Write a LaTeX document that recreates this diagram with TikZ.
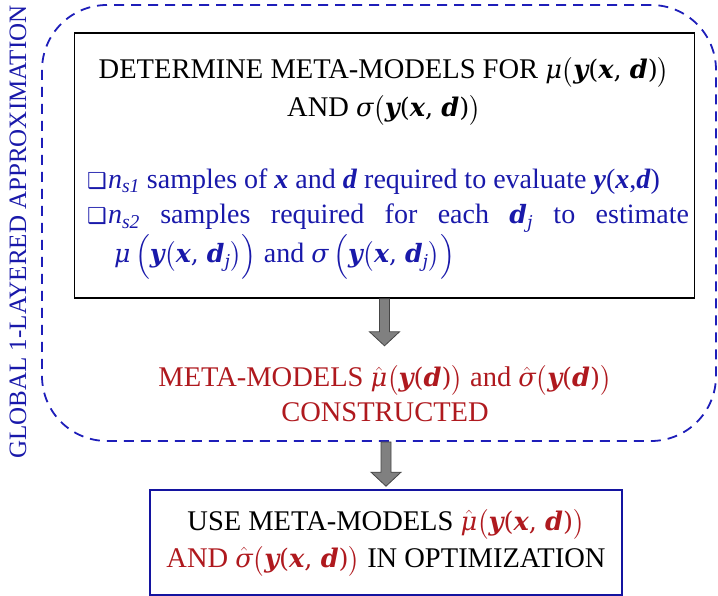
\documentclass[tikz,border=0pt]{standalone}
\usepackage{fontspec}
\setmainfont{Liberation Serif}
\newfontfamily\dingfont{DejaVu Sans}
\newfontfamily\cambria{DejaVu Serif}[Scale=0.9]
\usepackage{amsmath}
\usetikzlibrary{positioning}
\usetikzlibrary{calc}
\usepackage{xcolor}

\definecolor{frameblue}{RGB}{30,30,185}
\definecolor{txtblue}{RGB}{25,25,170}
\definecolor{boxblue}{RGB}{20,20,160}
\definecolor{darkred}{RGB}{175,25,30}
\definecolor{arrowgray}{RGB}{128,128,128}
\definecolor{arrowdark}{RGB}{70,70,70}

% letters of the formulas
\newcommand{\tbi}[1]{\textbf{\textit{#1}}}
\newcommand{\cbi}[1]{{\cambria\bfseries\itshape #1}}
\newcommand{\cmr}[1]{{\cambria #1}}
\newcommand{\gmu}{{\cambria\itshape μ}}
\newcommand{\gsig}{{\cambria\itshape σ}}
\newcommand{\hmu}{$\hat{\text{\gmu}}$}
\newcommand{\hsig}{$\hat{\text{\gsig}}$}
\newcommand{\lb}{$\bigl($}
\newcommand{\rb}{$\bigr)$}
\newcommand{\yxd}{\cbi{y}\cmr{(}\cbi{x}\cmr{, }\cbi{d}\cmr{)}}
\newcommand{\yd}{\cbi{y}\cmr{(}\cbi{d}\cmr{)}}
\newcommand{\yxdj}{\cbi{y}$\bigl($\cbi{x}\cmr{, }\cbi{d}\textsubscript{\cmr{\itshape j}}$\bigr)$}
\newcommand{\bul}{{\dingfont\fontsize{22}{22}\selectfont ❑}}

% gray block arrow from #1 down to tip #2
\newcommand{\blockarrow}[2]{%
  \path[draw=arrowdark, fill=arrowgray, line width=0.8pt]
    ($(#1)+(-5,0)$) -- ($(#2)+(-5,-14)$) -- ($(#2)+(-15,-14)$) -- (#2)
    -- ($(#2)+(15,-14)$) -- ($(#2)+(5,-14)$) -- ($(#1)+(5,0)$) -- cycle;}

\tikzset{
  detbox/.style={draw=black, line width=1.6pt, minimum width=620pt, minimum height=265pt, inner sep=0pt},
  usebox/.style={draw=boxblue, line width=1.6pt, minimum width=472pt, minimum height=105pt, inner sep=0pt, align=center, font=\fontsize{28.5}{37}\selectfont},
  frame/.style={draw=frameblue, line width=1.8pt, dash pattern=on 10pt off 7pt, rounded corners=65pt, minimum width=674pt, minimum height=436pt, inner sep=0pt},
}

\begin{document}
\begin{tikzpicture}[x=1pt, y=-1pt]
\useasboundingbox (0,0) rectangle (718,596);

%%%%%% global approximation frame %%%%%%
\node[frame] (global) at (379,223) {};
\node[rotate=90, text=txtblue, font=\fontsize{25}{25}\selectfont] (globallbl) at (18,232) {GLOBAL 1-LAYERED APPROXIMATION};

%%%%%% meta-model box %%%%%%
\node[detbox] (detbox) at (384.5,165.5) {};
\node[align=center, font=\fontsize{28.5}{38}\selectfont] (dettitle) at (384,91)
  {DETERMINE META-MODELS FOR \gmu\lb\yxd\rb\\ AND \gsig\lb\yxd\rb};
\node[text width=602pt, align=justify, text=txtblue, font=\fontsize{28}{35}\selectfont] (detlist) at (388,224)
  {\hangindent=27pt\hangafter=1\makebox[21pt][l]{\bul}\mbox{\textit{n}\textsubscript{\textit{s1}} samples of \tbi{x} and \tbi{d} required to evaluate \tbi{y}(\tbi{x},\tbi{d})}\par
   \hangindent=27pt\hangafter=1\makebox[21pt][l]{\bul}\textit{n}\textsubscript{\textit{s2}} samples required for each \cbi{d}\textsubscript{\cmr{\itshape j}} to estimate\linebreak
   \rule{0pt}{30pt}\gmu\,$\Bigl($\yxdj$\Bigr)$ and \gsig\,$\Bigl($\yxdj$\Bigr)$\par};

%%%%%% constructed meta-models %%%%%%
\node[align=center, text=darkred, font=\fontsize{28.5}{35}\selectfont] (metatxt) at (385,394)
  {META-MODELS \hmu\lb\yd\rb\ and \hsig\lb\yd\rb\\ CONSTRUCTED};

%%%%%% use in optimization %%%%%%
\node[usebox] (usebox) at (386,542.5)
  {USE META-MODELS \textcolor{darkred}{\hmu\lb\yxd\rb}\\
   \textcolor{darkred}{AND \hsig\lb\yxd\rb} IN OPTIMIZATION};

% arrows
\coordinate (tip1) at ($(detbox.south)+(0,47)$);
\blockarrow{detbox.south}{tip1}
\coordinate (tip2) at ($(usebox.north)+(0,-3)$);
\blockarrow{global.south -| tip2}{tip2}

\end{tikzpicture}
\end{document}
